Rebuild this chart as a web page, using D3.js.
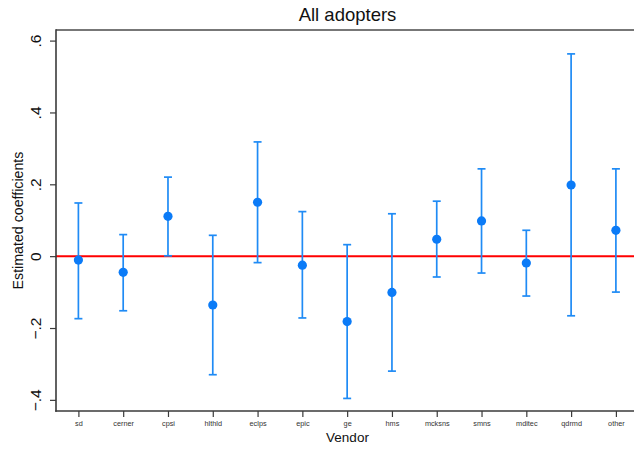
<!DOCTYPE html>
<html>
<head>
<meta charset="utf-8">
<script src="https://cdn.jsdelivr.net/npm/d3@7"></script>
<style>
  body { margin: 0; background: #fff; }
  svg { display: block; font-family: "Liberation Sans", Arial, sans-serif; }
</style>
</head>
<body>
<div id="container-chart"></div>
<script>
// estimates
const vendors = ["sd", "cerner", "cpsi", "hlthld", "eclps", "epic", "ge", "hms", "mcksns", "smns", "mditec", "qdrmd", "other"];
const coef  = [-0.011, -0.045, 0.111, -0.136, 0.150, -0.025, -0.182, -0.101, 0.047, 0.098, -0.019, 0.198, 0.072];
const upper = [0.148, 0.060, 0.220, 0.058, 0.318, 0.124, 0.032, 0.118, 0.153, 0.243, 0.072, 0.563, 0.243];
const lower = [-0.174, -0.152, 0.001, -0.330, -0.018, -0.172, -0.396, -0.320, -0.058, -0.047, -0.111, -0.166, -0.100];
const yTicks = [-0.4, -0.2, 0, 0.2, 0.4, 0.6];

const W = 634, H = 449;
const margin = {top: 30, left: 56, bottom: 411, right: 638.3};

const svg = d3.select("#container-chart")
  .append("svg")
  .attr("width", W)
  .attr("height", H);

const x = d3.scalePoint()
  .domain(vendors)
  .range([margin.left, margin.right])
  .padding(0.5);

const y = d3.scaleLinear()
  .domain([-0.431, 0.6295])
  .range([margin.bottom, margin.top]);

const data = vendors.map((v, i) => ({v: v, b: coef[i], hi: upper[i], lo: lower[i]}));

// top frame line
svg.append("line")
  .attr("x1", margin.left).attr("x2", margin.right)
  .attr("y1", margin.top).attr("y2", margin.top)
  .attr("stroke", "#4a4a4a").attr("stroke-width", 1.5);

// zero reference line
svg.append("line")
  .attr("x1", margin.left).attr("x2", margin.right)
  .attr("y1", y(0)).attr("y2", y(0))
  .attr("stroke", "#ff0000").attr("stroke-width", 2);

// error bars
const bars = svg.append("g")
  .attr("stroke", "#1f8bf5")
  .attr("stroke-width", 1.7)
  .attr("fill", "none");

bars.selectAll(".stem").data(data).join("line")
  .attr("x1", d => x(d.v)).attr("x2", d => x(d.v))
  .attr("y1", d => y(d.hi)).attr("y2", d => y(d.lo));

bars.selectAll(".capHi").data(data).join("line")
  .attr("x1", d => x(d.v) - 4).attr("x2", d => x(d.v) + 4)
  .attr("y1", d => y(d.hi)).attr("y2", d => y(d.hi));

bars.selectAll(".capLo").data(data).join("line")
  .attr("x1", d => x(d.v) - 4).attr("x2", d => x(d.v) + 4)
  .attr("y1", d => y(d.lo)).attr("y2", d => y(d.lo));

// point estimates
svg.append("g").selectAll("circle").data(data).join("circle")
  .attr("cx", d => x(d.v))
  .attr("cy", d => y(d.b))
  .attr("r", 4.6)
  .attr("fill", "#0b7bf7");

// y axis
const fmt = d => d === 0 ? "0" : d3.format(".1f")(d).replace("0.", ".");
const yAxis = svg.append("g")
  .attr("transform", "translate(" + margin.left + ",0)")
  .call(d3.axisLeft(y).tickValues(yTicks).tickFormat(fmt).tickSize(6).tickSizeOuter(0));
yAxis.select(".domain").attr("stroke", "#3a3a3a").attr("stroke-width", 1.6)
  .attr("d", "M0," + (margin.bottom + 0.8) + "V" + (margin.top - 0.8));
yAxis.selectAll(".tick line").attr("stroke", "#3a3a3a").attr("stroke-width", 1.2);
yAxis.selectAll(".tick text")
  .attr("transform", "rotate(-90)")
  .attr("x", 0).attr("y", -15).attr("dy", 0)
  .attr("text-anchor", "middle")
  .attr("font-size", "15.5px")
  .attr("font-family", "Liberation Sans, Arial, sans-serif")
  .attr("fill", "#111");

// x axis
const xAxis = svg.append("g")
  .attr("transform", "translate(0," + margin.bottom + ")")
  .call(d3.axisBottom(x).tickSize(6).tickSizeOuter(0));
xAxis.select(".domain").attr("stroke", "#3a3a3a").attr("stroke-width", 1.6)
  .attr("d", "M" + (margin.left - 0.8) + ",0H" + margin.right);
xAxis.selectAll(".tick line").attr("stroke", "#3a3a3a").attr("stroke-width", 1.2);
xAxis.selectAll(".tick text")
  .attr("y", 15).attr("dy", 0)
  .attr("font-size", "7.3px")
  .attr("font-family", "Liberation Sans, Arial, sans-serif")
  .attr("fill", "#333");

// titles
svg.append("text")
  .attr("x", 347.5).attr("y", 21)
  .attr("text-anchor", "middle")
  .attr("font-size", "18.5px")
  .attr("fill", "#111")
  .text("All adopters");

svg.append("text")
  .attr("x", 347.5).attr("y", 442)
  .attr("text-anchor", "middle")
  .attr("font-size", "13.5px")
  .attr("fill", "#111")
  .text("Vendor");

svg.append("text")
  .attr("transform", "translate(23," + ((margin.top + margin.bottom) / 2) + ") rotate(-90)")
  .attr("text-anchor", "middle")
  .attr("font-size", "14.2px")
  .attr("fill", "#111")
  .text("Estimated coefficients");
</script>
</body>
</html>
